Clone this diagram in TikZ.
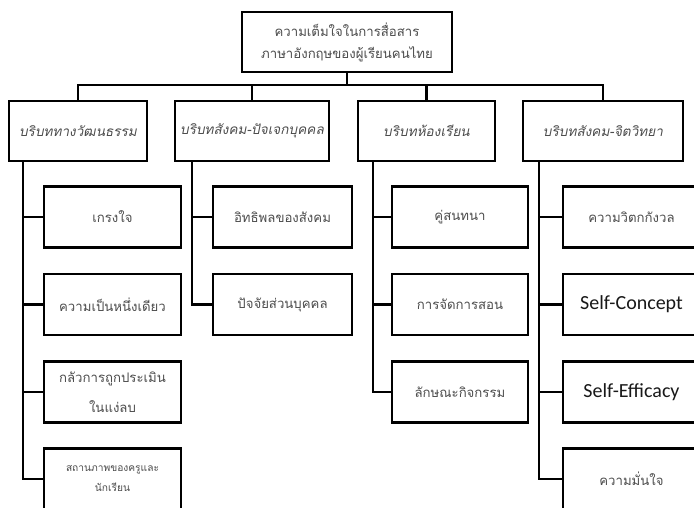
\documentclass[tikz,border=0pt]{standalone}
\usepackage{fontspec}
\usepackage{tikz}
\newfontfamily\thaifont[Script=Thai]{Loma}
\newfontfamily\thaislant[Script=Thai,FakeSlant=0.2]{Loma}
\newfontfamily\engfont{Carlito}
\tikzset{
  box/.style={draw=black,line width=2.2pt,rectangle,align=center,
    text=black!70,font=\thaifont\fontsize{13.2}{22}\selectfont},
  topbox/.style={box,minimum width=210pt,minimum height=60pt},
  ctxbox/.style={box,minimum width=#1,minimum height=60pt,
    font=\thaislant\fontsize{13.6}{22}\selectfont},
  itembox/.style={box,minimum width=137pt,minimum height=61pt},
  link/.style={draw=black,line width=2.2pt}
}

\begin{document}
\begin{tikzpicture}[x=1pt,y=-1pt]
  \useasboundingbox (0,0) rectangle (694,508);
  \clip (0,0) rectangle (694,508);
  \fill[white] (0,0) rectangle (694,508);

  \node[topbox] (root) at (347,42) {ความเต็มใจในการสื่อสาร\\ภาษาอังกฤษของผู้เรียนคนไทย};

  \node[ctxbox=138pt] (cult) at (78,131) {บริบททางวัฒนธรรม};
  \node[ctxbox=154pt] (soc) at (252,131) {บริบทสังคม-ปัจเจกบุคคล};
  \node[ctxbox=137pt] (room) at (426.5,131) {บริบทห้องเรียน};
  \node[ctxbox=160pt] (psy) at (603,131) {บริบทสังคม-จิตวิทยา};

  \coordinate (bus) at (347,85);
  \draw[link] (root.south) -- (root.south |- bus) -| (cult.north);
  \draw[link] (root.south |- bus) -| (soc.north);
  \draw[link] (root.south |- bus) -| (room.north);
  \draw[link] (root.south |- bus) -| (psy.north);

  % cultural context
  \node[itembox] (cult1) at (112.5,217) {เกรงใจ};
  \node[itembox] (cult2) at (112.5,304.5) {ความเป็นหนึ่งเดียว};
  \node[itembox,font=\thaifont\fontsize{13.2}{30}\selectfont] (cult3) at (112.5,392) {กลัวการถูกประเมิน\\ในแง่ลบ};
  \node[itembox,font=\thaifont\fontsize{10.2}{20}\selectfont] (cult4) at (112.5,479) {สถานภาพของครูและ\\นักเรียน};
  \coordinate (cultbus) at (23,161);
  \draw[link] (cultbus) |- (cult1.west);
  \draw[link] (cultbus) |- (cult2.west);
  \draw[link] (cultbus) |- (cult3.west);
  \draw[link] (cultbus) |- (cult4.west);

  % social-individual context
  \node[itembox,minimum width=139pt] (soc1) at (282.5,217) {อิทธิพลของสังคม};
  \node[itembox,minimum width=139pt] (soc2) at (282.5,304.5) {ปัจจัยส่วนบุคคล};
  \coordinate (socbus) at (192,161);
  \draw[link] (socbus) |- (soc1.west);
  \draw[link] (socbus) |- (soc2.west);

  % classroom context
  \node[itembox,minimum width=136pt] (room1) at (460,217) {คู่สนทนา};
  \node[itembox,minimum width=136pt] (room2) at (460,304.5) {การจัดการสอน};
  \node[itembox,minimum width=136pt] (room3) at (460,392) {ลักษณะกิจกรรม};
  \coordinate (roombus) at (373,161);
  \draw[link] (roombus) |- (room1.west);
  \draw[link] (roombus) |- (room2.west);
  \draw[link] (roombus) |- (room3.west);

  % social-psychological context
  \node[itembox] (psy1) at (631.5,217) {ความวิตกกังวล};
  \node[itembox,text=black!90,font=\engfont\fontsize{20}{22}\selectfont] (psy2) at (631.5,304.5) {Self-Concept};
  \node[itembox,text=black!90,font=\engfont\fontsize{20}{22}\selectfont] (psy3) at (631.5,392) {Self-Efficacy};
  \node[itembox] (psy4) at (631.5,479) {ความมั่นใจ};
  \coordinate (psybus) at (539,161);
  \draw[link] (psybus) |- (psy1.west);
  \draw[link] (psybus) |- (psy2.west);
  \draw[link] (psybus) |- (psy3.west);
  \draw[link] (psybus) |- (psy4.west);
\end{tikzpicture}
\end{document}
